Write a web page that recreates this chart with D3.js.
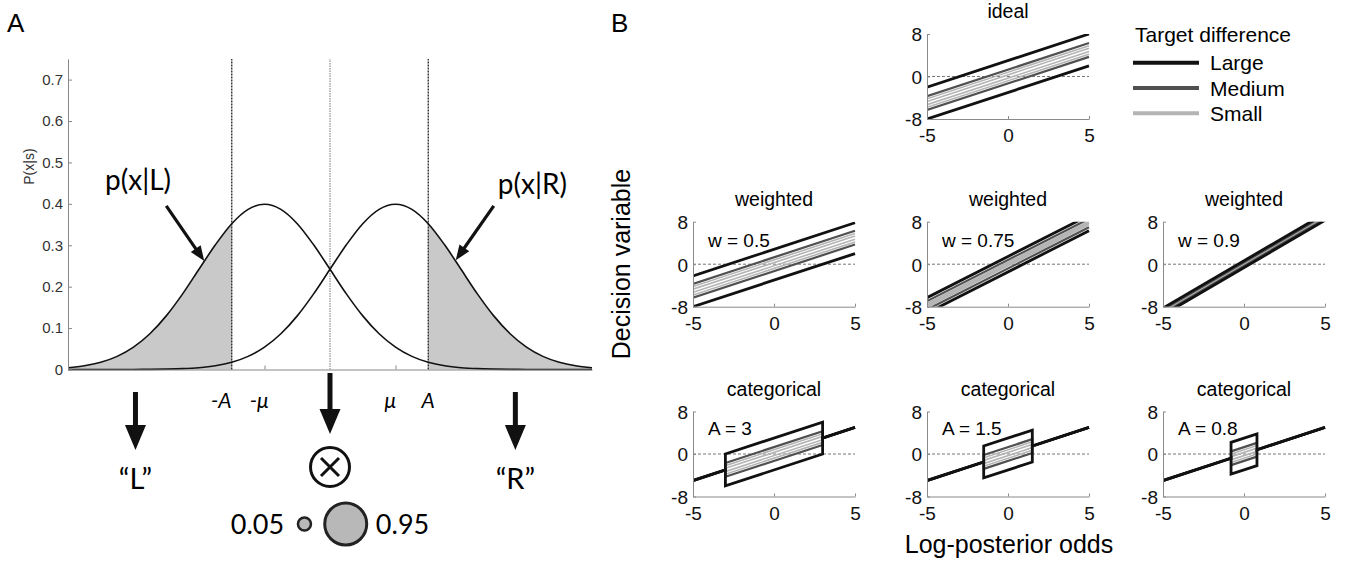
<!DOCTYPE html>
<html>
<head>
<meta charset="utf-8">
<style>
body { margin: 0; background: #fff; }
svg { display: block; font-family: "Liberation Sans", Arial, sans-serif; }
.gill { font-family: Lato, "Open Sans", sans-serif; }
</style>
<script src="https://cdn.jsdelivr.net/npm/d3@7"></script>
</head>
<body>
<svg width="1345" height="562"></svg>
<script>
// ---------- panel A data ----------
var gridX = [-4, -3.75, -3.5, -3.25, -3, -2.75, -2.5, -2.25, -2, -1.75, -1.5, -1.25, -1, -0.75, -0.5, -0.25,
             0, 0.25, 0.5, 0.75, 1, 1.25, 1.5, 1.75, 2, 2.25, 2.5, 2.75, 3, 3.25, 3.5, 3.75, 4];
var densL = [0.0044, 0.0091, 0.0175, 0.0317, 0.0540, 0.0863, 0.1295, 0.1826, 0.2420, 0.3011, 0.3521, 0.3867,
             0.3989, 0.3867, 0.3521, 0.3011, 0.2420, 0.1826, 0.1295, 0.0863, 0.0540, 0.0317, 0.0175, 0.0091,
             0.0044, 0.0020, 0.0009, 0.0004, 0.0001, 0, 0, 0, 0];
var densR = [0, 0, 0, 0, 0.0001, 0.0004, 0.0009, 0.0020, 0.0044, 0.0091, 0.0175, 0.0317, 0.0540, 0.0863,
             0.1295, 0.1826, 0.2420, 0.3011, 0.3521, 0.3867, 0.3989, 0.3867, 0.3521, 0.3011, 0.2420, 0.1826,
             0.1295, 0.0863, 0.0540, 0.0317, 0.0175, 0.0091, 0.0044];
var critA = 1.5;
var mu = 1;
var yTicksA = [0, 0.1, 0.2, 0.3, 0.4, 0.5, 0.6, 0.7];
var xLabelsA = ["-A", "-\u03bc", "\u03bc", "A"];
var xLabelPosA = [-1.66, -1.08, 0.92, 1.5];

// ---------- panel B data: [level, value at x=-5, value at x=5] ----------
var levels = ["Large", "Medium", "Small"];
var idealLines = [["Small", -4.2, 5.8], ["Small", -4.7, 5.3], ["Small", -5.3, 4.7], ["Small", -5.8, 4.2],
                  ["Medium", -3.7, 6.3], ["Medium", -6.3, 3.7], ["Large", -2, 8], ["Large", -8, 2]];
var w50Lines = [["Small", -4.2, 5.8], ["Small", -4.7, 5.3], ["Small", -5.3, 4.7], ["Small", -5.8, 4.2],
                ["Medium", -3.7, 6.3], ["Medium", -6.3, 3.7], ["Large", -2.2, 7.8], ["Large", -8, 2]];
var w75Lines = [["Small", -7.4, 8.1], ["Small", -7.65, 7.85], ["Small", -7.85, 7.65], ["Small", -8.1, 7.4],
                ["Medium", -6.95, 8.55], ["Medium", -8.55, 6.95], ["Large", -6.3, 9.2], ["Large", -9.2, 6.3]];
var w90Lines = [["Small", -8.7, 9.1], ["Small", -8.85, 8.95], ["Small", -8.95, 8.85], ["Small", -9.1, 8.7],
                ["Medium", -8.55, 9.25], ["Medium", -9.25, 8.55], ["Large", -8.25, 9.55], ["Large", -9.55, 8.25]];
var catA = [3, 1.5, 0.8];
var catOffsets = [["Small", 0.3], ["Small", -0.3], ["Small", 0.8], ["Small", -0.8],
                  ["Medium", 1.3], ["Medium", -1.3], ["Large", 3], ["Large", -3]];
var bTicksX = [-5, 0, 5];
var bTicksY = [-8, 0, 8];

var levelStyle = {
  Large:  {color: "#111", width: 2.8, legendWidth: 4},
  Medium: {color: "#505050", width: 2.2, legendWidth: 4},
  Small:  {color: "#b4b4b4", width: 1.6, legendWidth: 4}
};

var svg = d3.select("svg");

// ---------- helpers ----------
function arrow(g, x0, y0, x1, y1, w, hl, hw) {
  var dx = x1 - x0, dy = y1 - y0, len = Math.sqrt(dx * dx + dy * dy);
  var ux = dx / len, uy = dy / len;
  var bx = x1 - ux * hl, by = y1 - uy * hl;
  g.append("line")
      .attr("x1", x0).attr("y1", y0)
      .attr("x2", bx + ux * 2).attr("y2", by + uy * 2)
      .attr("stroke", "#111").attr("stroke-width", w);
  g.append("path")
      .attr("d", "M" + x1 + "," + y1 +
                 "L" + (bx - uy * hw / 2) + "," + (by + ux * hw / 2) +
                 "L" + (bx + uy * hw / 2) + "," + (by - ux * hw / 2) + "Z")
      .attr("fill", "#111");
}
function plain(d) { return String(d); }

// ================= PANEL A =================
var xA = d3.scaleLinear().domain([-4, 4]).range([68, 592]),
    yA = d3.scaleLinear().domain([0, 0.75]).range([369.5, 58.9]);
var gA = svg.append("g");

svg.append("text").attr("x", 7).attr("y", 32).style("font-size", "26px").text("A");
svg.append("text").attr("x", 611).attr("y", 32).style("font-size", "26px").text("B");

var ptsL = gridX.map(function(x, i) { return {x: x, y: densL[i]}; });
var ptsR = gridX.map(function(x, i) { return {x: x, y: densR[i]}; });

var area = d3.area().curve(d3.curveMonotoneX)
    .x(function(d) { return xA(d.x); }).y0(yA(0)).y1(function(d) { return yA(d.y); });
var line = d3.line().curve(d3.curveMonotoneX)
    .x(function(d) { return xA(d.x); }).y(function(d) { return yA(d.y); });

gA.append("path").datum(ptsL.filter(function(d) { return d.x <= -critA; }))
    .attr("d", area).attr("fill", "#c9c9c9");
gA.append("path").datum(ptsR.filter(function(d) { return d.x >= critA; }))
    .attr("d", area).attr("fill", "#c9c9c9");

// criterion and midline
[-critA, critA].forEach(function(v) {
  gA.append("line").attr("x1", xA(v)).attr("x2", xA(v)).attr("y1", yA(0)).attr("y2", yA(0.75))
      .attr("stroke", "#222").attr("stroke-width", 1.3).attr("stroke-dasharray", "2,1");
});
gA.append("line").attr("x1", xA(0)).attr("x2", xA(0)).attr("y1", yA(0)).attr("y2", yA(0.75))
    .attr("stroke", "#777").attr("stroke-width", 1).attr("stroke-dasharray", "1.5,1");

gA.append("path").datum(ptsL).attr("d", line).attr("fill", "none").attr("stroke", "#111").attr("stroke-width", 1.6);
gA.append("path").datum(ptsR).attr("d", line).attr("fill", "none").attr("stroke", "#111").attr("stroke-width", 1.6);

// axes
var axAy = gA.append("g").attr("transform", "translate(" + xA(-4) + ",0)")
    .call(d3.axisLeft(yA).tickValues(yTicksA).tickSize(-4).tickSizeOuter(0).tickPadding(5)
          .tickFormat(function(d) { return d === 0 ? "0" : d3.format(".1f")(d); }));
axAy.selectAll("text").style("font-size", "15px").style("font-family", "Liberation Sans, Arial").attr("fill", "#333");
axAy.selectAll("line, path").attr("stroke", "#888");

var axAx = gA.append("g").attr("transform", "translate(0," + yA(0) + ")")
    .call(d3.axisBottom(xA).tickValues([-mu, mu]).tickSize(-4).tickSizeOuter(0).tickFormat(""));
axAx.selectAll("line, path").attr("stroke", "#888");

gA.append("text").attr("transform", "translate(34," + yA(0.49) + ") rotate(-90)")
    .attr("text-anchor", "middle").style("font-size", "14px").attr("fill", "#333").text("P(x|s)");

gA.selectAll(".xlab").data(xLabelsA).enter().append("text")
    .attr("class", "gill")
    .attr("x", function(d, i) { return xA(xLabelPosA[i]); })
    .attr("y", 408)
    .attr("text-anchor", "middle")
    .style("font-size", "21px").style("font-style", "italic")
    .text(function(d) { return d; });

// likelihood annotations
gA.append("text").attr("class", "gill").attr("x", xA(-2.93)).attr("y", yA(0.433))
    .attr("text-anchor", "middle").style("font-size", "28px").text("p(x|L)");
arrow(gA, xA(-2.5), yA(0.395), xA(-1.92), yA(0.262), 3.2, 15, 12);
gA.append("text").attr("class", "gill").attr("x", xA(3.09)).attr("y", yA(0.424))
    .attr("text-anchor", "middle").style("font-size", "28px").text("p(x|R)");
arrow(gA, xA(2.5), yA(0.395), xA(1.92), yA(0.264), 3.2, 15, 12);

// decision outcomes
arrow(gA, xA(-2.97), 392, xA(-2.97), 450, 5, 25, 21);
arrow(gA, xA(2.83), 392, xA(2.83), 450, 5, 25, 21);
arrow(gA, xA(0), 373, xA(0), 434, 5, 25, 21);

gA.append("text").attr("class", "gill").attr("x", xA(-2.97)).attr("y", 489)
    .attr("text-anchor", "middle").style("font-size", "29px").text("\u201cL\u201d");
gA.append("text").attr("class", "gill").attr("x", xA(2.83)).attr("y", 489)
    .attr("text-anchor", "middle").style("font-size", "29px").text("\u201cR\u201d");

var cx = xA(0), cy = 467;
gA.append("circle").attr("cx", cx).attr("cy", cy).attr("r", 19.5)
    .attr("fill", "#fff").attr("stroke", "#111").attr("stroke-width", 3);
gA.append("path").attr("d", "M" + (cx - 9) + "," + (cy - 9) + "L" + (cx + 9) + "," + (cy + 9) +
                            "M" + (cx + 9) + "," + (cy - 9) + "L" + (cx - 9) + "," + (cy + 9))
    .attr("stroke", "#111").attr("stroke-width", 3);

gA.append("circle").attr("cx", xA(-0.39)).attr("cy", 524).attr("r", 6.5)
    .attr("fill", "#b8b8b8").attr("stroke", "#222").attr("stroke-width", 2.5);
gA.append("circle").attr("cx", xA(0.24)).attr("cy", 524).attr("r", 21)
    .attr("fill", "#b8b8b8").attr("stroke", "#222").attr("stroke-width", 3);
gA.append("text").attr("class", "gill").attr("x", xA(-0.7)).attr("y", 534)
    .attr("text-anchor", "end").style("font-size", "27px").text("0.05");
gA.append("text").attr("class", "gill").attr("x", xA(0.7)).attr("y", 534)
    .attr("text-anchor", "start").style("font-size", "27px").text("0.95");

// ================= PANEL B =================
var pw = 162, ph = 85;
var panels = [
  {title: "ideal", left: 927, top: 34, lines: idealLines},
  {title: "weighted", left: 693, top: 221.7, lines: w50Lines, note: "w = 0.5"},
  {title: "weighted", left: 927, top: 221.7, lines: w75Lines, note: "w = 0.75"},
  {title: "weighted", left: 1163, top: 221.7, lines: w90Lines, note: "w = 0.9"},
  {title: "categorical", left: 693, top: 411.5, cat: catA[0], note: "A = 3"},
  {title: "categorical", left: 927, top: 411.5, cat: catA[1], note: "A = 1.5"},
  {title: "categorical", left: 1163, top: 411.5, cat: catA[2], note: "A = 0.8"}
];

panels.forEach(function(p, pi) {
  var x = d3.scaleLinear().domain([-5, 5]).range([0, pw]),
      y = d3.scaleLinear().domain([-8, 8]).range([ph, 0]);
  var g = svg.append("g").attr("transform", "translate(" + p.left + "," + p.top + ")");

  g.append("clipPath").attr("id", "clip" + pi)
    .append("rect").attr("x", 0).attr("y", 0).attr("width", pw + 1).attr("height", ph);

  g.append("line").attr("x1", x(-5)).attr("x2", x(5)).attr("y1", y(0)).attr("y2", y(0))
      .attr("stroke", "#777").attr("stroke-width", 1).attr("stroke-dasharray", "3,2");

  var rows;
  if (p.cat !== undefined) {
    var A = p.cat;
    rows = catOffsets.map(function(o) {
      return {level: o[0], pts: [[-5, -5], [-A, -A], [-A, -A + o[1]], [A, A + o[1]], [A, A], [5, 5]]};
    });
  } else {
    rows = p.lines.map(function(l) { return {level: l[0], pts: [[-5, l[1]], [5, l[2]]]}; });
  }

  var ln = d3.line().x(function(d) { return x(d[0]); }).y(function(d) { return y(d[1]); });
  g.append("g").attr("clip-path", "url(#clip" + pi + ")")
    .selectAll("path").data(rows).enter().append("path")
      .attr("d", function(d) { return ln(d.pts); })
      .attr("fill", "none")
      .attr("stroke-linejoin", "miter")
      .attr("stroke", function(d) { return levelStyle[d.level].color; })
      .attr("stroke-width", function(d) { return levelStyle[d.level].width; });

  var ax = g.append("g").attr("transform", "translate(0," + ph + ")")
      .call(d3.axisBottom(x).tickValues(bTicksX).tickSize(-3).tickSizeOuter(0).tickPadding(10).tickFormat(plain));
  var ay = g.append("g")
      .call(d3.axisLeft(y).tickValues(bTicksY).tickSize(-3).tickSizeOuter(0).tickPadding(5).tickFormat(plain));
  [ax, ay].forEach(function(a) {
    a.selectAll("line, path").attr("stroke", "#8a8a8a");
    a.selectAll("text").style("font-size", "19px").style("font-family", "Liberation Sans, Arial").attr("fill", "#111");
  });
  ay.selectAll("text").attr("dy", "0.36em");

  g.append("text").attr("x", pw / 2).attr("y", -16).attr("text-anchor", "middle")
      .style("font-size", "19.5px").text(p.title);
  if (p.note) {
    g.append("text").attr("x", 15).attr("y", p.cat !== undefined ? 23 : 25)
        .style("font-size", "19px").text(p.note);
  }
});

// legend
var leg = svg.append("g");
leg.append("text").attr("x", 1135).attr("y", 42).style("font-size", "21px").text("Target difference");
levels.forEach(function(lv, i) {
  var ly = 62.7 + i * 25.3;
  leg.append("line").attr("x1", 1133).attr("x2", 1199).attr("y1", ly).attr("y2", ly)
      .attr("stroke", levelStyle[lv].color).attr("stroke-width", levelStyle[lv].legendWidth);
  leg.append("text").attr("x", 1210).attr("y", ly + 7.5).style("font-size", "21px").text(lv);
});

// axis titles
svg.append("text").attr("transform", "translate(630,264) rotate(-90)").attr("text-anchor", "middle")
    .style("font-size", "25px").text("Decision variable");
svg.append("text").attr("x", 1009).attr("y", 553).attr("text-anchor", "middle")
    .style("font-size", "25px").text("Log-posterior odds");
</script>
</body>
</html>
